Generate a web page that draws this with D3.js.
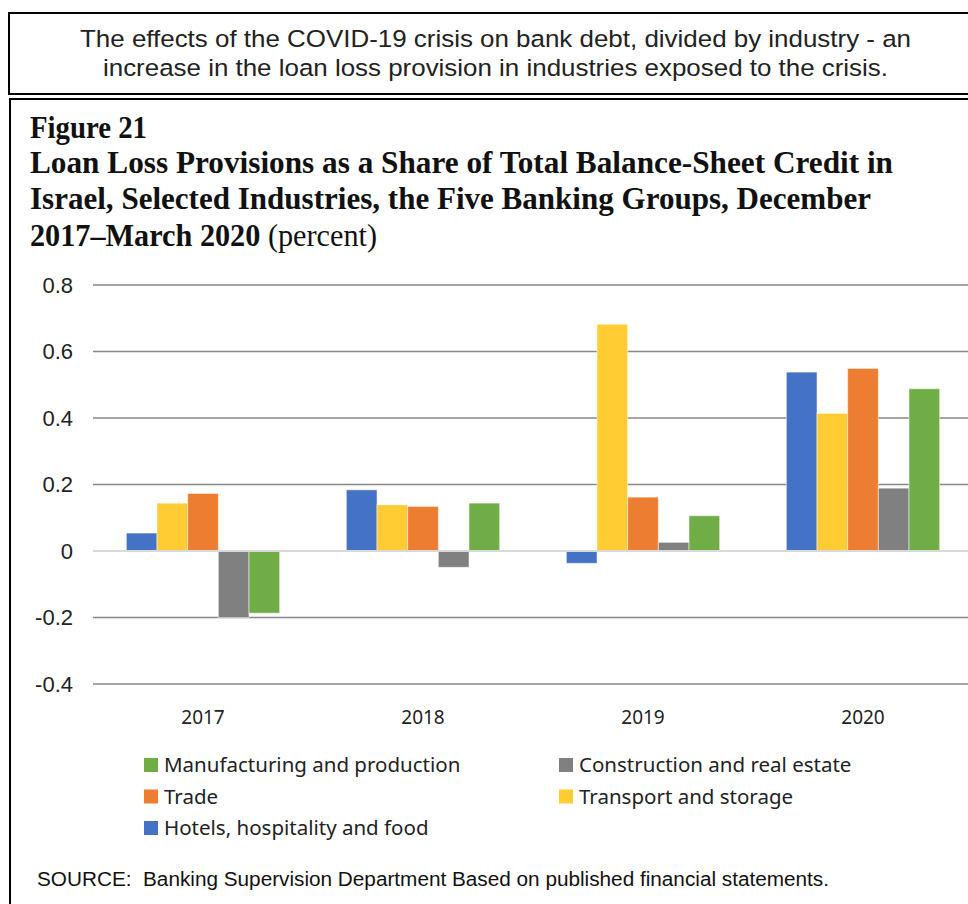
<!DOCTYPE html>
<html>
<head>
<meta charset="utf-8">
<script src="https://cdn.jsdelivr.net/npm/d3@7"></script>
<style>
  body { margin: 0; background: #fff; }
  svg { display: block; }
</style>
</head>
<body>
<svg id="chart" width="968" height="904"></svg>
<script>
// years on the x axis
const years = ['2017', '2018', '2019', '2020']
// series, in bar order inside each year group
const series = ['Hotels, hospitality and food', 'Transport and storage', 'Trade',
  'Construction and real estate', 'Manufacturing and production']
const colors = ['#4472C4', '#FFCD33', '#ED7D31', '#808080', '#70AD47']
// values per series, one per year (percent)
const hotels = [0.054, 0.184, -0.037, 0.538]
const transport = [0.144, 0.139, 0.682, 0.414]
const trade = [0.173, 0.134, 0.162, 0.549]
const construction = [-0.2, -0.049, 0.026, 0.189]
const manufacturing = [-0.187, 0.144, 0.106, 0.488]
const yTicks = [-0.4, -0.2, 0, 0.2, 0.4, 0.6, 0.8]
// legend order as in the original (two columns)
const legendOrder = ['Manufacturing and production', 'Construction and real estate',
  'Trade', 'Transport and storage', 'Hotels, hospitality and food']

const values = [hotels, transport, trade, construction, manufacturing]
const rows = years.map((y, i) => ({
  year: y,
  values: series.map((s, j) => ({ key: s, value: values[j][i], color: colors[j] }))
}))

const svg = d3.select('#chart')

// header box
svg.append('rect')
  .attr('x', 9).attr('y', 13).attr('width', 990).attr('height', 81)
  .attr('fill', 'none').attr('stroke', '#000').attr('stroke-width', 2)
const header = [
  { text: 'The effects of the COVID-19 crisis on bank debt, divided by industry - an', w: 831 },
  { text: 'increase in the loan loss provision in industries exposed to the crisis.', w: 785 }
]
svg.selectAll('.header')
  .data(header)
  .enter().append('text')
  .attr('class', 'header')
  .attr('x', 495.5)
  .attr('y', (d, i) => 47 + i * 29)
  .attr('text-anchor', 'middle')
  .attr('font-family', 'Liberation Sans, Arial, sans-serif')
  .attr('font-size', 24.5)
  .attr('textLength', d => d.w)
  .attr('lengthAdjust', 'spacingAndGlyphs')
  .attr('fill', '#222')
  .text(d => d.text)

// figure frame
svg.append('rect')
  .attr('x', 10).attr('y', 99).attr('width', 990).attr('height', 830)
  .attr('fill', 'none').attr('stroke', '#000').attr('stroke-width', 2)

// title
const title = svg.append('g')
  .attr('font-family', 'Liberation Serif, Times New Roman, serif')
  .attr('font-size', 31.5)
  .attr('fill', '#111')
const titleLines = [
  { text: 'Figure 21', y: 138, w: 117 },
  { text: 'Loan Loss Provisions as a Share of Total Balance-Sheet Credit in', y: 173, w: 863 },
  { text: 'Israel, Selected Industries, the Five Banking Groups, December', y: 209, w: 841 }
]
titleLines.forEach(t => {
  title.append('text')
    .attr('x', 30).attr('y', t.y)
    .attr('font-weight', 'bold')
    .attr('textLength', t.w)
    .attr('lengthAdjust', 'spacingAndGlyphs')
    .text(t.text)
})
const last = title.append('text').attr('x', 30).attr('y', 246)
  .attr('textLength', 347)
  .attr('lengthAdjust', 'spacingAndGlyphs')
last.append('tspan').attr('font-weight', 'bold').text('2017\u2013March 2020')
last.append('tspan').text(' (percent)')

// scales
const x = d3.scaleBand()
  .domain(years)
  .range([93, 973])
const xs = d3.scaleBand()
  .domain(series)
  .range([0, x.bandwidth()])
  .paddingOuter(1.087)
const y = d3.scaleLinear()
  .domain([-0.4, 0.8])
  .range([684, 285])

// grid
svg.append('g')
  .selectAll('line')
  .data(yTicks.filter(d => d !== 0))
  .enter().append('line')
  .attr('x1', 93).attr('x2', 968)
  .attr('y1', d => y(d)).attr('y2', d => y(d))
  .attr('stroke', '#878787').attr('stroke-width', 1.5)

// y axis labels
const yAxis = d3.axisLeft(y)
  .tickValues(yTicks)
  .tickFormat(d => d === 0 ? '0' : d.toFixed(1))
  .tickSize(0)
  .tickPadding(20)
svg.append('g')
  .attr('transform', 'translate(93,0)')
  .call(yAxis)
  .call(g => g.select('.domain').remove())
  .selectAll('text')
  .attr('font-family', 'Liberation Sans, Arial, sans-serif')
  .attr('font-size', 22)
  .attr('fill', '#222')

// bars
const groups = svg.append('g')
  .selectAll('.year')
  .data(rows)
  .enter().append('g')
  .attr('class', 'year')
  .attr('transform', d => 'translate(' + x(d.year) + ',0)')
groups.selectAll('rect')
  .data(d => d.values)
  .enter().append('rect')
  .attr('x', d => xs(d.key))
  .attr('width', xs.bandwidth())
  .attr('y', d => y(Math.max(0, d.value)))
  .attr('height', d => Math.abs(y(d.value) - y(0)))
  .attr('fill', d => d.color)
  .attr('stroke', '#fff').attr('stroke-opacity', 0.5).attr('stroke-width', 1)

// zero line
svg.append('line')
  .attr('x1', 93).attr('x2', 968)
  .attr('y1', y(0)).attr('y2', y(0))
  .attr('stroke', '#d9d9d9').attr('stroke-width', 2)

// x axis labels
const xAxis = d3.axisBottom(x).tickSize(0).tickPadding(0)
svg.append('g')
  .attr('transform', 'translate(0,724)')
  .call(xAxis)
  .call(g => g.select('.domain').remove())
  .selectAll('text')
  .attr('dy', 0)
  .attr('font-family', 'Noto Sans, sans-serif')
  .attr('font-size', 19)
  .attr('fill', '#222')

// legend
const legend = svg.append('g')
  .selectAll('.legend')
  .data(legendOrder)
  .enter().append('g')
  .attr('class', 'legend')
  .attr('transform', (d, i) => 'translate(' + (i % 2 ? 559 : 144) + ',' + (765 + Math.floor(i / 2) * 31.5) + ')')
legend.append('rect')
  .attr('x', 0).attr('y', -7).attr('width', 14).attr('height', 14)
  .attr('fill', d => colors[series.indexOf(d)])
legend.append('text')
  .attr('x', 20).attr('y', 7)
  .attr('font-family', 'Noto Sans, sans-serif')
  .attr('font-size', 20.5)
  .attr('fill', '#222')
  .text(d => d)

// source
svg.append('text')
  .attr('x', 37).attr('y', 886)
  .attr('font-family', 'Liberation Sans, Arial, sans-serif')
  .attr('font-size', 20)
  .attr('textLength', 792)
  .attr('lengthAdjust', 'spacingAndGlyphs')
  .attr('fill', '#111')
  .style('white-space', 'pre')
  .text('SOURCE:  Banking Supervision Department Based on published financial statements.')
</script>
</body>
</html>
